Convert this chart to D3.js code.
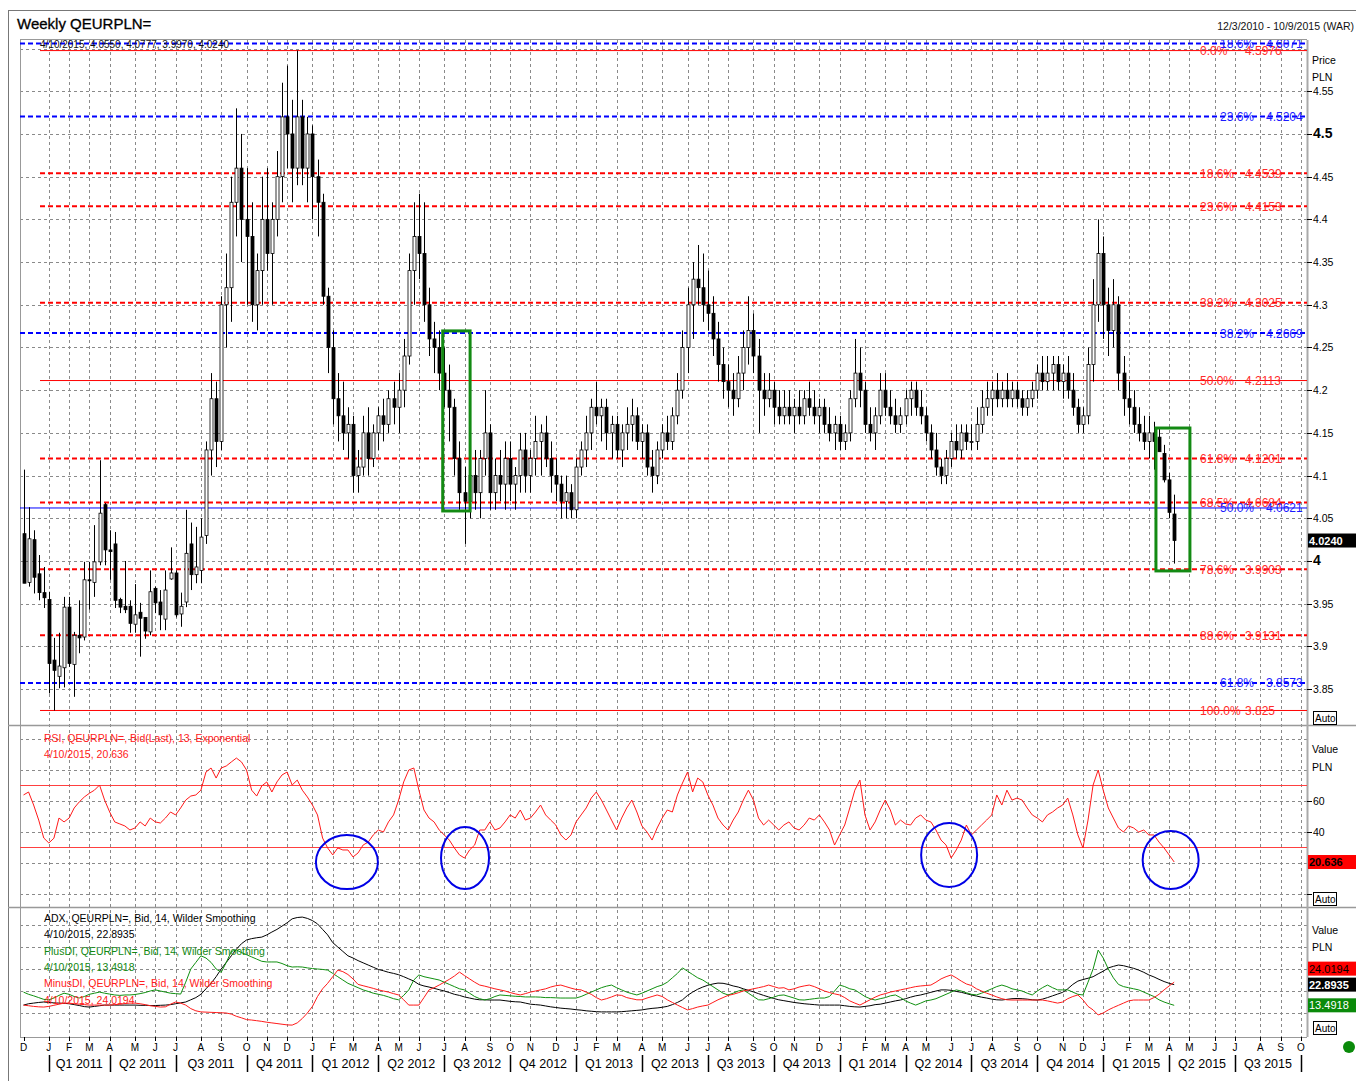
<!DOCTYPE html>
<html>
<head>
<meta charset="utf-8">
<script src="https://cdn.jsdelivr.net/npm/d3@7"></script>
<style>
  body { margin: 0; background: #fff; }
  svg { display: block; }
  text { font-family: "Liberation Sans", Arial, sans-serif; }
</style>
</head>
<body>
<svg id="chart" width="1356" height="1081"></svg>
<script>
// ---- data (weekly bars, 12/3/2010 .. 4/10/2015; axis runs to 10/9/2015) ----
const startDate = new Date(2010, 11, 3);
const weeksOnAxis = 254;

const opens = [
  4.032,3.975,4.025,3.985,3.963,3.955,3.884,3.865,3.875,3.946,3.879,3.913,3.911,3.978,3.975,3.999,4.066,4.013,4.020,3.955,3.947,3.947,3.926,3.940,3.934,3.917,3.968,3.952,3.932,3.979,3.986,3.938,3.952,4.020,3.984,3.989,
  4.03,4.13,4.19,4.14,4.30,4.32,4.42,4.46,4.40,4.38,4.30,4.34,4.40,4.36,4.40,4.45,4.52,4.50,4.46,4.52,4.46,4.50,4.45,4.42,
  4.31,4.25,4.19,4.17,4.15,4.16,4.10,4.11,4.15,4.12,4.15,4.17,4.16,4.19,4.18,4.20,4.24,4.34,4.38,4.36,4.30,4.26,4.25,4.22,4.20,4.18,4.12,4.08,4.07,4.10,
  4.08,4.12,4.15,4.08,4.10,4.09,4.12,4.09,4.10,4.13,4.10,4.12,4.14,4.15,4.12,4.10,4.09,4.07,4.08,4.06,4.11,4.13,4.15,4.18,4.17,4.18,4.15,4.16,4.13,4.15,
  4.16,4.17,4.14,4.15,4.11,4.10,4.13,4.15,4.14,4.17,4.20,4.25,4.30,4.33,4.32,4.30,4.29,4.26,4.23,4.21,4.20,4.19,4.22,4.25,4.27,4.24,4.20,4.19,4.20,4.18,
  4.17,4.18,4.17,4.18,4.17,4.19,4.18,4.17,4.18,4.16,4.15,4.16,4.14,4.15,4.19,4.22,4.20,4.16,4.15,4.17,4.20,4.18,4.17,4.16,4.17,4.19,4.20,4.18,4.17,4.15,
  4.13,4.11,4.10,4.12,4.14,4.13,4.15,4.14,4.14,4.16,4.18,4.19,4.20,4.19,4.20,4.19,4.20,4.19,4.18,4.19,4.20,4.22,4.21,4.22,4.23,4.21,4.22,4.20,4.18,4.16,
  4.17,4.23,4.30,4.36,4.30,4.27,4.30,4.22,4.19,4.18,4.16,4.15,4.14,4.15,4.145,4.126,4.095,4.055
];
const highs = [
  4.107,4.063,4.036,4.007,3.993,3.964,3.910,3.916,3.958,3.958,3.917,3.954,3.999,3.999,4.042,4.118,4.068,4.036,4.034,3.957,4.000,3.954,3.973,3.951,3.934,3.989,3.970,3.966,3.989,4.016,3.989,3.963,4.060,4.045,4.040,4.050,
  4.14,4.22,4.21,4.31,4.36,4.45,4.53,4.50,4.46,4.42,4.36,4.45,4.46,4.42,4.48,4.56,4.58,4.54,4.5976,4.54,4.52,4.51,4.47,4.43,
  4.32,4.27,4.22,4.21,4.18,4.17,4.13,4.17,4.18,4.16,4.18,4.19,4.20,4.21,4.22,4.26,4.36,4.42,4.43,4.42,4.32,4.28,4.27,4.25,4.23,4.19,4.14,4.11,4.12,4.13,
  4.13,4.20,4.16,4.12,4.13,4.14,4.14,4.11,4.15,4.15,4.13,4.17,4.16,4.17,4.14,4.12,4.10,4.10,4.09,4.12,4.14,4.17,4.19,4.21,4.19,4.19,4.17,4.17,4.16,4.18,
  4.19,4.18,4.16,4.16,4.13,4.14,4.16,4.17,4.18,4.22,4.27,4.32,4.35,4.37,4.36,4.34,4.31,4.28,4.25,4.23,4.22,4.24,4.27,4.31,4.29,4.26,4.22,4.22,4.21,4.20,
  4.20,4.20,4.19,4.20,4.20,4.21,4.20,4.19,4.19,4.18,4.17,4.17,4.16,4.20,4.26,4.25,4.21,4.18,4.18,4.22,4.22,4.20,4.19,4.18,4.20,4.21,4.21,4.20,4.18,4.16,
  4.15,4.12,4.13,4.15,4.16,4.16,4.16,4.16,4.18,4.20,4.21,4.21,4.22,4.21,4.22,4.21,4.21,4.20,4.20,4.21,4.23,4.24,4.24,4.24,4.24,4.23,4.24,4.22,4.19,4.18,
  4.25,4.33,4.40,4.38,4.32,4.33,4.31,4.24,4.21,4.20,4.18,4.17,4.17,4.163,4.156,4.136,4.103,4.0777
];
const lows = [
  3.974,3.970,3.962,3.954,3.945,3.845,3.825,3.851,3.852,3.876,3.841,3.892,3.907,3.943,3.958,3.995,3.995,3.978,3.945,3.939,3.939,3.916,3.916,3.888,3.909,3.913,3.939,3.919,3.919,3.978,3.934,3.923,3.946,3.966,3.974,3.974,
  4.02,4.10,4.11,4.13,4.25,4.28,4.38,4.35,4.30,4.28,4.27,4.30,4.34,4.30,4.38,4.42,4.46,4.42,4.44,4.44,4.42,4.40,4.38,4.30,
  4.22,4.16,4.14,4.13,4.12,4.08,4.08,4.10,4.10,4.11,4.13,4.14,4.15,4.16,4.15,4.18,4.23,4.30,4.33,4.28,4.24,4.22,4.20,4.18,4.14,4.10,4.06,4.02,4.05,4.06,
  4.05,4.10,4.06,4.06,4.07,4.06,4.07,4.06,4.08,4.08,4.08,4.10,4.10,4.11,4.08,4.07,4.05,4.05,4.05,4.05,4.10,4.11,4.13,4.16,4.14,4.13,4.12,4.12,4.11,4.13,
  4.14,4.13,4.12,4.10,4.08,4.09,4.12,4.13,4.13,4.16,4.19,4.22,4.26,4.30,4.28,4.27,4.24,4.21,4.19,4.18,4.17,4.18,4.20,4.23,4.22,4.15,4.17,4.18,4.16,4.16,
  4.16,4.16,4.15,4.16,4.16,4.17,4.16,4.15,4.15,4.14,4.13,4.13,4.13,4.14,4.18,4.18,4.15,4.14,4.13,4.16,4.17,4.16,4.15,4.15,4.16,4.17,4.17,4.16,4.14,4.12,
  4.10,4.09,4.09,4.11,4.12,4.12,4.13,4.13,4.13,4.15,4.17,4.17,4.18,4.18,4.18,4.18,4.18,4.17,4.17,4.18,4.19,4.20,4.20,4.20,4.20,4.19,4.19,4.17,4.15,4.15,
  4.16,4.21,4.28,4.26,4.24,4.25,4.20,4.17,4.16,4.15,4.14,4.13,4.12,4.107,4.128,4.092,4.050,3.997
];
const closes = [
  3.974,4.026,3.981,3.963,3.957,3.880,3.872,3.877,3.946,3.880,3.913,3.910,3.978,3.977,3.999,4.056,4.013,4.011,3.954,3.946,3.943,3.927,3.937,3.933,3.918,3.964,3.951,3.937,3.966,3.986,3.937,3.947,4.009,3.984,3.993,4.028,
  4.13,4.19,4.14,4.30,4.32,4.42,4.46,4.40,4.38,4.30,4.34,4.40,4.36,4.40,4.45,4.52,4.50,4.46,4.52,4.46,4.50,4.45,4.42,4.31,
  4.25,4.19,4.17,4.15,4.16,4.10,4.11,4.15,4.12,4.15,4.17,4.16,4.19,4.18,4.20,4.24,4.34,4.38,4.36,4.30,4.26,4.25,4.22,4.20,4.18,4.12,4.08,4.07,4.10,4.08,
  4.12,4.15,4.08,4.10,4.09,4.12,4.09,4.10,4.13,4.10,4.12,4.14,4.15,4.12,4.10,4.09,4.07,4.08,4.06,4.11,4.13,4.15,4.18,4.17,4.18,4.15,4.16,4.13,4.15,4.16,
  4.17,4.14,4.15,4.11,4.10,4.13,4.15,4.14,4.17,4.20,4.25,4.30,4.33,4.32,4.30,4.29,4.26,4.23,4.21,4.20,4.19,4.22,4.25,4.27,4.24,4.20,4.19,4.20,4.18,4.17,
  4.18,4.17,4.18,4.17,4.19,4.18,4.17,4.18,4.16,4.15,4.16,4.14,4.15,4.19,4.22,4.20,4.16,4.15,4.17,4.20,4.18,4.17,4.16,4.17,4.19,4.20,4.18,4.17,4.15,4.13,
  4.11,4.10,4.12,4.14,4.13,4.15,4.14,4.14,4.16,4.18,4.19,4.20,4.19,4.20,4.19,4.20,4.19,4.18,4.19,4.20,4.22,4.21,4.22,4.23,4.21,4.22,4.20,4.18,4.16,4.17,
  4.23,4.30,4.36,4.30,4.27,4.30,4.22,4.19,4.18,4.16,4.15,4.14,4.15,4.14,4.128,4.095,4.057,4.024
];

const rsi = [
  63.9,65.8,57.4,47.7,36.1,32.9,36,49,46.5,49,55.5,59.4,62.6,65,67,70.3,60.6,52.9,46.5,45.2,43.9,41.3,42.6,46.5,43.9,49,46.5,45.8,49,52.9,51,55.5,60.6,63.2,63.9,67,
  78.7,81.3,74.8,81.3,82.6,85.2,87.7,85.2,80,67,63.2,69.7,72.3,65.8,72.3,76.8,78.7,70.3,73.5,67,62.6,57.4,51,36.1,
  29.7,25.2,29.7,28.4,28.4,23.9,26.5,31.6,33.5,38.1,41.3,40,46.5,51,60.6,72.3,80,81.3,67,54.2,49,46.5,41.3,38.1,34.8,29.7,25.2,23.2,28.4,31.6,
  41.3,41.3,46.5,41.3,42.6,46.5,51,49,54.2,47.7,49,52.9,57.4,51,47.7,44.5,38.1,34.8,38.1,46.5,51,55.5,61.9,65.8,60.6,54.2,47.7,41.3,49,55.5,
  60.6,52.9,43.9,40,34.8,42.6,49,54.2,52.9,63.9,71.6,78.7,65.8,74.8,72.3,63.9,57.4,49,44.5,41.3,47.7,52.9,60.6,67,60.6,49,44.5,47.7,44.5,41.3,
  44.5,46.5,42.6,41.3,44.5,49,47.7,51,46.5,41.3,31.6,38.1,44.5,55.5,67,73.5,51,41.3,46.5,54.2,60.6,54.2,44.5,47.7,45.2,44.5,49,51,47.7,46.5,
  41.3,34.8,31.6,23.2,28.4,34.8,44.5,38.1,41.3,44.5,47.7,51,63.9,57.4,67,60.6,61.9,60.6,55.5,51,49,46.5,51,52.9,55.5,57.4,61.9,51,38.1,29.7,
  47.7,70.3,80,67,55.5,49,42.6,40,43.9,42.6,40,41.3,38.1,38.1,33.5,29.7,25.2,20.636
];
const adx = [
  13.6,14.2,14.5,14.8,15,14.8,14.6,14.5,14.4,14.2,13.8,13.4,12.9,12.7,13,13.3,13.6,13.6,13.6,13.6,13.6,13.6,13.6,13.5,13.5,13.4,13.4,13.5,13.6,13.8,14.2,14.6,15,16,17,18.5,
  21,23.5,26.5,30,33,36,39,41.5,43.2,43.8,44.2,44.5,45.5,46.8,48,49.5,51,52.8,53.4,53.6,53,52,50.5,48,
  45.5,42,40,38,36,35,33.8,32.8,31.8,30.8,29.8,29.2,28.5,28,27.4,26.5,25.5,24.5,23,22.3,21.8,21.2,20.6,20,19.3,18.5,18,17.3,16.8,16.3,
  16,16,15.9,15.9,15.9,15.6,15.3,15.1,15,14.5,14,13.8,13.6,13.2,12.8,12.5,12.2,12,11.8,11.5,11.3,11,10.8,10.6,10.5,10.5,10.5,10.5,10.6,10.8,
  11,11.2,11.4,11.8,12.1,12.3,12.6,13,13.8,14.8,16,18,19.5,20.8,21.8,22.6,23.2,23.6,23.5,23,22.3,21.8,21,20.3,19.6,18.8,18,17.3,16.6,16,
  15.6,15.2,14.8,14.5,14.2,14,13.8,13.6,13.6,13.6,13.6,13.6,13.3,13,12.8,12.7,13,13.3,13.8,14,14.5,15,15.5,15.9,16.5,17.2,17.8,18.2,18.8,19.4,
  20,20.5,20.5,20.3,19.8,19.4,18.8,18.2,17.7,17.2,16.8,16.3,16,15.9,16.2,16.5,16.6,16.5,16.3,16,15.9,16.3,17,17.8,18.6,19.4,21,23,24.5,25.2,
  25.8,26.5,27.8,29,30.5,31.2,31.8,31.5,30.9,30.3,29.5,28.5,27.3,26.4,25.3,24.3,23.5,22.8935
];
const plusDI = [
  19.5,18.5,17.8,17,16.2,16,16.8,18,19,18.5,17.5,16.8,17.5,18.5,19,19.5,19,18.6,18.2,18,18.2,18.2,18.4,18.8,19.3,20,20.5,20,19.5,19,18.8,18.6,24,30,33,36,
  35,33,30,28.5,33,38,38.6,37.5,36.5,35.5,34.5,33.5,33.2,33.2,33.2,32.5,31.5,30.9,31,30.9,30.5,30.2,30,29.8,
  29.5,28,26.5,25,23.5,22.5,21.5,20.5,19.8,19,18.5,18,17.3,16.5,16,18,20.5,25,27.3,26.5,26,25.5,25,24,23,22,21,20.5,19,17.5,
  16.5,15.9,16.5,17.5,18.2,18,17.8,17.6,17.5,17.3,17.3,17.3,17.2,17,17,16.9,16.8,16.8,16.8,16.8,17.5,18.5,19.5,20.5,21.5,22.2,22.7,21.5,20.5,19.5,
  18.8,18.2,19,20,21,22,22.7,24,26,28,30.5,29,27.5,26,25,23.5,22,20.5,19,18.2,19,20,20.5,19,17.5,16,15.9,16.5,17.2,18,
  18.2,17.5,16.8,16,15.9,16.2,16.5,16.8,16.8,17.5,20,22.7,22,21,20.5,19,17.5,16.5,15.9,16.5,17,17.8,18.2,17,15.5,14.5,13.6,14.5,15.5,15.9,
  16.5,17.5,18.5,19.5,20.5,20,19.2,18.5,18.2,19,20,21,22,22.7,22,21,20.5,20,19,18.2,20,21.5,22.7,21.5,20.5,20.5,20.5,19.5,18.5,18.2,
  24,30,38.6,35,30,26,23,22,21.5,21,20.5,19.5,18.5,17.5,16,15,14.2,13.4918
];
const minusDI = [
  13.6,13.3,13,12.8,12.7,13,13.5,14,14.5,14.5,14.2,14,13.8,13.6,13.6,13.6,13.6,13.6,13.8,14,14.3,14.5,14.5,14.2,13.8,13.3,13,12.7,12.8,14,15,14.5,13.6,12,11,10.5,
  10.4,10.3,10.2,10.1,10,9.5,8.5,7.8,7,6.8,6.5,6.2,5.8,5.5,5.2,4.9,4.6,4.5,5.5,7.5,10,13,17.5,21,
  23.5,26.5,29.5,28.8,27.5,25.5,23,22.4,21.8,21.2,20.5,20,19.5,18.8,18.2,16,13.6,13.6,13.6,17,20.5,21.5,22.7,24,25.3,26.8,28.6,27,25.5,24,
  22.7,22.2,21.6,21,20.5,20,19.3,18.7,18.2,18.8,19.5,20,20.5,21,21.8,22.4,22.7,22,21.3,20.7,20.5,19.5,18.5,17,15.9,16.5,17.3,18.2,18,17,
  16.5,16,16,16.8,17.5,18.2,17.5,16,14.8,13.6,12.5,11.4,12,12.7,13.2,13.6,14.8,16,17,18,18.5,19.2,20,20.5,21,21.5,22,22.7,22,21.3,
  21.5,20.5,21,21.8,22.3,22.7,22,21,20,19.3,18.7,18.2,17,15.5,14.5,13.6,14.8,16,17.2,18.2,18.8,19.5,20,20.5,21,21.5,22,22.3,22.5,22.7,
  24,25.5,26.5,27.3,26,24.5,23.2,22.5,21,20,19,18.2,17.3,16.5,16,15.9,15.9,15.9,15.9,15.9,15.9,15.9,15.5,15,14.5,15,16.5,17.5,18.2,16,
  13,11.4,9.1,10,11.4,12.5,13.5,14.5,15.5,15.9,15.9,15.9,15.9,17,18.5,20.5,22.3,24.0194
];

const priceTicks = [3.85,3.9,3.95,4,4.05,4.1,4.15,4.2,4.25,4.3,4.35,4.4,4.45,4.5,4.55];
const priceGrid = [3.85,3.9,3.95,4,4.05,4.1,4.15,4.2,4.25,4.3,4.35,4.4,4.45,4.5,4.55,4.6];
const rsiGrid = [0,20,40,60,80,100];
const rsiTicks = [40,60];
const rsiBands = [30,70];
const adxGrid = [10,20,30,40,50];

// Fibonacci retracement sets
const fibRedPct = ['0.0%','18.6%','23.6%','38.2%','50.0%','61.8%','68.5%','78.6%','88.6%','100.0%'];
const fibRedVal = [4.5976,4.4539,4.4153,4.3025,4.2113,4.1201,4.0684,3.9903,3.9131,3.825];
const fibBluePct = ['18.6%','23.6%','38.2%','50.0%','61.8%'];
const fibBlueVal = [4.6071,4.5204,4.2669,4.0621,3.8573];

// annotations (week index / value units)
const boxWeeks = [[82.7, 88.1], [223.4, 230.1]];
const boxPrices = [[4.2694, 4.0586], [4.1557, 3.9884]];
const circleWeeks = [63.8, 87.1, 182.6, 226.3];
const circleRsi = [20.6, 23.2, 25.2, 21.9];

const monthInitials = ['J','F','M','A','M','J','J','A','S','O','N','D'];

// ---- layout ----
const svg = d3.select('#chart');
const plotL = 20, plotR = 1307;
const priceTop = 40, priceBot = 725, rsiTop = 726, rsiBot = 907, adxTop = 908, adxBot = 1037;
const gridColor = '#8a8a8a';

const x = d3.scaleLinear().domain([0, weeksOnAxis - 1]).range([23.5, 1306]);
const yP = d3.scaleLinear().domain([3.808, 4.610]).range([priceBot, priceTop]);
const yR = d3.scaleLinear().domain([0, 100]).range([894, 739]);
const yA = d3.scaleLinear().domain([0, 50]).range([1035, 925]);

const defs = svg.append('defs');
[['clipP', priceTop, priceBot], ['clipR', rsiTop, rsiBot], ['clipA', adxTop, adxBot]].forEach(function (c) {
    defs.append('clipPath').attr('id', c[0]).append('rect')
        .attr('x', plotL).attr('y', c[1]).attr('width', plotR - plotL).attr('height', c[2] - c[1]);
});

// frame
svg.append('line').attr('x1', 8).attr('x2', 1356).attr('y1', 10.5).attr('y2', 10.5).attr('stroke', '#777');
svg.append('line').attr('x1', 8.5).attr('x2', 8.5).attr('y1', 10).attr('y2', 1081).attr('stroke', '#777');
svg.append('text').attr('x', 17).attr('y', 29).attr('font-size', 15).attr('fill', '#000')
    .attr('stroke', '#000').attr('stroke-width', 0.3).text('Weekly QEURPLN=');
svg.append('text').attr('x', 1354).attr('y', 30).attr('font-size', 10.5).attr('text-anchor', 'end')
    .attr('fill', '#111').text('12/3/2010 - 10/9/2015 (WAR)');

// week dates & month ticks
const weekDates = d3.range(weeksOnAxis).map(function (i) { return d3.timeDay.offset(startDate, 7 * i); });
const monthTicks = weekDates.map(function (d, i) { return { i: i, d: d }; })
    .filter(function (o) { return o.i === 0 || o.d.getMonth() !== weekDates[o.i - 1].getMonth(); });

// vertical grid
svg.append('g').selectAll('line').data(monthTicks.filter(function (o) { return o.i > 0; })).enter()
    .append('line')
    .attr('x1', function (o) { return Math.round(x(o.i)) + 0.5; })
    .attr('x2', function (o) { return Math.round(x(o.i)) + 0.5; })
    .attr('y1', priceTop).attr('y2', adxBot)
    .attr('stroke', gridColor).attr('stroke-dasharray', '3,3');

// horizontal grids
function hGrid(values, scale) {
    svg.append('g').selectAll('line').data(values).enter().append('line')
        .attr('x1', plotL).attr('x2', plotR)
        .attr('y1', function (v) { return Math.round(scale(v)) + 0.5; })
        .attr('y2', function (v) { return Math.round(scale(v)) + 0.5; })
        .attr('stroke', gridColor).attr('stroke-dasharray', '3,3');
}
hGrid(priceGrid, yP);
hGrid(rsiGrid, yR);
hGrid(adxGrid, yA);

// panel borders
[priceBot + 0.5, rsiBot + 0.5].forEach(function (yy) {
    svg.append('line').attr('x1', 8).attr('x2', 1356).attr('y1', yy).attr('y2', yy).attr('stroke', '#999').attr('stroke-width', 1.5);
});
svg.append('line').attr('x1', plotL).attr('x2', plotR).attr('y1', priceTop - 0.5).attr('y2', priceTop - 0.5).attr('stroke', '#999');
svg.append('line').attr('x1', plotL).attr('x2', plotR).attr('y1', adxBot + 0.5).attr('y2', adxBot + 0.5).attr('stroke', '#999');
svg.append('line').attr('x1', plotL + 0.5).attr('x2', plotL + 0.5).attr('y1', priceTop).attr('y2', adxBot).attr('stroke', '#999');
svg.append('line').attr('x1', plotR + 0.5).attr('x2', plotR + 0.5).attr('y1', priceTop).attr('y2', adxBot).attr('stroke', '#aaa').attr('stroke-width', 2);

// ---- price panel ----
const gP = svg.append('g').attr('clip-path', 'url(#clipP)');
const fibTopY = 43.5; // levels above the panel are pinned to its top

// fibonacci lines
const redFib = fibRedPct.map(function (p, k) { return { pct: p, val: fibRedVal[k] }; });
const blueFib = fibBluePct.map(function (p, k) { return { pct: p, val: fibBlueVal[k] }; });
function isSolidRed(p) { return p === '0.0%' || p === '50.0%' || p === '100.0%'; }
function fibY(v) { return Math.max(yP(v), fibTopY); }

gP.selectAll('.fib-red').data(redFib).enter().append('line')
    .attr('class', 'fib-red')
    .attr('x1', 40).attr('x2', plotR)
    .attr('y1', function (d) { return fibY(d.val); }).attr('y2', function (d) { return fibY(d.val); })
    .attr('stroke', '#ff0000')
    .attr('stroke-width', function (d) { return isSolidRed(d.pct) ? 1 : 2; })
    .attr('stroke-dasharray', function (d) { return isSolidRed(d.pct) ? null : '5,3'; });
gP.selectAll('.fib-blue').data(blueFib).enter().append('line')
    .attr('class', 'fib-blue')
    .attr('x1', plotL).attr('x2', plotR)
    .attr('y1', function (d) { return fibY(d.val); }).attr('y2', function (d) { return fibY(d.val); })
    .attr('stroke', '#0000ff')
    .attr('stroke-width', function (d) { return d.pct === '50.0%' ? 1 : 2; })
    .attr('stroke-dasharray', function (d) { return d.pct === '50.0%' ? null : '5,3'; });

// candles
const bars = d3.range(closes.length).map(function (i) {
    return { i: i, o: opens[i], h: highs[i], l: lows[i], c: closes[i] };
});
gP.selectAll('.wick').data(bars).enter().append('line')
    .attr('x1', function (d) { return Math.round(x(d.i)) + 0.5; })
    .attr('x2', function (d) { return Math.round(x(d.i)) + 0.5; })
    .attr('y1', function (d) { return yP(d.h); }).attr('y2', function (d) { return yP(d.l); })
    .attr('stroke', '#000');
gP.selectAll('.body').data(bars).enter().append('rect')
    .attr('x', function (d) { return Math.round(x(d.i)) - 1; })
    .attr('width', 3)
    .attr('y', function (d) { return yP(Math.max(d.o, d.c)); })
    .attr('height', function (d) { return Math.max(1, Math.abs(yP(d.o) - yP(d.c))); })
    .attr('fill', function (d) { return d.c < d.o ? '#000' : '#fff'; })
    .attr('stroke', '#000').attr('stroke-width', 0.8);

// fib labels
function fibLabels(data, cls, color, px, vx) {
    const g = gP.selectAll('.' + cls).data(data).enter().append('g').attr('class', cls);
    g.append('text').attr('x', px).attr('y', function (d) { return fibY(d.val) + 4.5; })
        .attr('font-size', 12).attr('fill', color).text(function (d) { return d.pct; });
    g.append('text').attr('x', vx).attr('y', function (d) { return fibY(d.val) + 4.5; })
        .attr('font-size', 12).attr('fill', color).text(function (d) { return String(d.val); });
}
fibLabels(redFib, 'lab-red', '#ff2a2a', 1200, 1245);
fibLabels(blueFib, 'lab-blue', '#1a1aff', 1220, 1266);

// green boxes
gP.selectAll('.gbox').data(boxWeeks).enter().append('rect')
    .attr('x', function (d) { return x(d[0]); })
    .attr('width', function (d) { return x(d[1]) - x(d[0]); })
    .attr('y', function (d, k) { return yP(boxPrices[k][0]); })
    .attr('height', function (d, k) { return yP(boxPrices[k][1]) - yP(boxPrices[k][0]); })
    .attr('fill', 'none').attr('stroke', '#138a13').attr('stroke-width', 3);

// info text
svg.append('text').attr('x', 40).attr('y', 48).attr('font-size', 10).attr('fill', '#111')
    .text('4/10/2015, 4.0550, 4.0777, 3.9970, 4.0240');

// price axis
const axP = svg.append('g');
axP.selectAll('line').data(priceTicks).enter().append('line')
    .attr('x1', plotR).attr('x2', plotR + 5)
    .attr('y1', function (v) { return Math.round(yP(v)) + 0.5; }).attr('y2', function (v) { return Math.round(yP(v)) + 0.5; })
    .attr('stroke', '#000');
axP.selectAll('text').data(priceTicks).enter().append('text')
    .attr('x', plotR + 6)
    .attr('y', function (v) { return yP(v) + 4; })
    .attr('font-size', function (v) { return (v === 4.5 || v === 4) ? 14 : 10.5; })
    .attr('font-weight', function (v) { return (v === 4.5 || v === 4) ? 'bold' : null; })
    .attr('font-family', function (v) { return (v === 4.5 || v === 4) ? '"Liberation Serif", serif' : null; })
    .text(function (v) { return String(v); });
svg.append('text').attr('x', 1312).attr('y', 64).attr('font-size', 10.5).text('Price');
svg.append('text').attr('x', 1312).attr('y', 81).attr('font-size', 10.5).text('PLN');

function tag(yc, w, fill, txt, color, bold) {
    svg.append('rect').attr('x', plotR + 1).attr('y', yc - 7).attr('width', w).attr('height', 14).attr('fill', fill);
    svg.append('text').attr('x', plotR + 2).attr('y', yc + 4).attr('font-size', 11)
        .attr('font-weight', bold ? 'bold' : null).attr('fill', color).text(txt);
}
tag(yP(closes[closes.length - 1]), 48, '#000', closes[closes.length - 1].toFixed(4), '#fff', true);

function autoBox(yc) {
    svg.append('rect').attr('x', 1313.5).attr('y', yc - 6.5).attr('width', 23).attr('height', 13)
        .attr('fill', '#fff').attr('stroke', '#000');
    svg.append('text').attr('x', 1315).attr('y', yc + 4).attr('font-size', 10).text('Auto');
}
autoBox(718);

// ---- RSI panel ----
const gR = svg.append('g').attr('clip-path', 'url(#clipR)');
gR.selectAll('.band').data(rsiBands).enter().append('line')
    .attr('x1', plotL).attr('x2', plotR)
    .attr('y1', function (v) { return yR(v); }).attr('y2', function (v) { return yR(v); })
    .attr('stroke', '#ff4040').attr('stroke-width', 1.2);
gR.append('path').datum(rsi)
    .attr('d', d3.line().x(function (v, i) { return x(i); }).y(function (v) { return yR(v); }))
    .attr('fill', 'none').attr('stroke', '#ff1a1a').attr('stroke-width', 1);
gR.selectAll('.circ').data(circleWeeks).enter().append('ellipse')
    .attr('cx', function (w) { return x(w); })
    .attr('cy', function (w, k) { return yR(circleRsi[k]); })
    .attr('rx', function (w, k) { return [31, 24, 28, 28][k]; })
    .attr('ry', function (w, k) { return [27, 31, 32, 29][k]; })
    .attr('fill', 'none').attr('stroke', '#0000e6').attr('stroke-width', 2);

svg.append('text').attr('x', 44).attr('y', 742).attr('font-size', 10.5).attr('fill', '#ff2020')
    .text('RSI, QEURPLN=, Bid(Last), 13, Exponential');
svg.append('text').attr('x', 44).attr('y', 758).attr('font-size', 10.5).attr('fill', '#ff2020')
    .text('4/10/2015, 20.636');

const axR = svg.append('g');
axR.selectAll('line').data(rsiTicks.concat([0])).enter().append('line')
    .attr('x1', plotR).attr('x2', plotR + 5)
    .attr('y1', function (v) { return Math.round(yR(v)) + 0.5; }).attr('y2', function (v) { return Math.round(yR(v)) + 0.5; })
    .attr('stroke', '#000');
axR.selectAll('text').data(rsiTicks).enter().append('text')
    .attr('x', plotR + 6).attr('y', function (v) { return yR(v) + 4; })
    .attr('font-size', 10.5).text(function (v) { return v; });
svg.append('text').attr('x', 1312).attr('y', 753).attr('font-size', 10.5).text('Value');
svg.append('text').attr('x', 1312).attr('y', 771).attr('font-size', 10.5).text('PLN');
tag(yR(rsi[rsi.length - 1]), 49, '#ff0000', String(rsi[rsi.length - 1]), '#000', true);
autoBox(899);

// ---- ADX panel ----
const gA = svg.append('g').attr('clip-path', 'url(#clipA)');
const lineA = d3.line().x(function (v, i) { return x(i); }).y(function (v) { return yA(v); });
[[adx, '#000'], [plusDI, '#109010'], [minusDI, '#ff1a1a']].forEach(function (s) {
    gA.append('path').datum(s[0]).attr('d', lineA)
        .attr('fill', 'none').attr('stroke', s[1]).attr('stroke-width', 1);
});

const adxLegend = [
    ['ADX, QEURPLN=, Bid,  14, Wilder Smoothing', '#000'],
    ['4/10/2015, 22.8935', '#000'],
    ['PlusDI, QEURPLN=, Bid,  14, Wilder Smoothing', '#118811'],
    ['4/10/2015, 13.4918', '#118811'],
    ['MinusDI, QEURPLN=, Bid,  14, Wilder Smoothing', '#ff2020'],
    ['4/10/2015, 24.0194', '#ff2020']
];
svg.append('g').selectAll('text').data(adxLegend).enter().append('text')
    .attr('x', 44).attr('y', function (d, k) { return 922 + k * 16.3; })
    .attr('font-size', 10.5).attr('fill', function (d) { return d[1]; })
    .text(function (d) { return d[0]; });

svg.append('text').attr('x', 1312).attr('y', 934).attr('font-size', 10.5).text('Value');
svg.append('text').attr('x', 1312).attr('y', 951).attr('font-size', 10.5).text('PLN');

const last = adx.length - 1;
const yAdx = yA(adx[last]);
tag(yAdx, 49, '#000', adx[last].toFixed(4), '#fff', true);
tag(Math.min(yA(minusDI[last]), yAdx - 16), 49, '#ff0000', minusDI[last].toFixed(4), '#000', false);
tag(Math.max(yA(plusDI[last]), yAdx + 16), 49, '#0a8a0a', plusDI[last].toFixed(4), '#fff', false);
autoBox(1028);

// ---- time axis ----
const axT = svg.append('g');
axT.selectAll('line').data(monthTicks).enter().append('line')
    .attr('x1', function (o) { return Math.round(x(o.i)) + 0.5; })
    .attr('x2', function (o) { return Math.round(x(o.i)) + 0.5; })
    .attr('y1', adxBot).attr('y2', adxBot + 4)
    .attr('stroke', '#000');
axT.selectAll('text').data(monthTicks).enter().append('text')
    .attr('x', function (o) { return x(o.i); }).attr('y', 1051)
    .attr('text-anchor', 'middle').attr('font-size', 10)
    .text(function (o) { return monthInitials[o.d.getMonth()]; });

const qStarts = monthTicks.filter(function (o) { return o.d.getMonth() % 3 === 0; });
axT.selectAll('.qsep').data(qStarts).enter().append('line')
    .attr('x1', function (o) { return Math.round(x(o.i)) + 0.5; })
    .attr('x2', function (o) { return Math.round(x(o.i)) + 0.5; })
    .attr('y1', 1055).attr('y2', 1072)
    .attr('stroke', '#000').attr('stroke-width', 1.5);
axT.selectAll('.qlab').data(qStarts.slice(0, -1)).enter().append('text')
    .attr('x', function (o, k) { return (x(o.i) + x(qStarts[k + 1].i)) / 2; })
    .attr('y', 1068).attr('text-anchor', 'middle').attr('font-size', 12.5)
    .text(function (o) { return 'Q' + (Math.floor(o.d.getMonth() / 3) + 1) + ' ' + o.d.getFullYear(); });

svg.append('circle').attr('cx', 1349).attr('cy', 1047).attr('r', 6).attr('fill', '#0a8a0a');
</script>
</body>
</html>
